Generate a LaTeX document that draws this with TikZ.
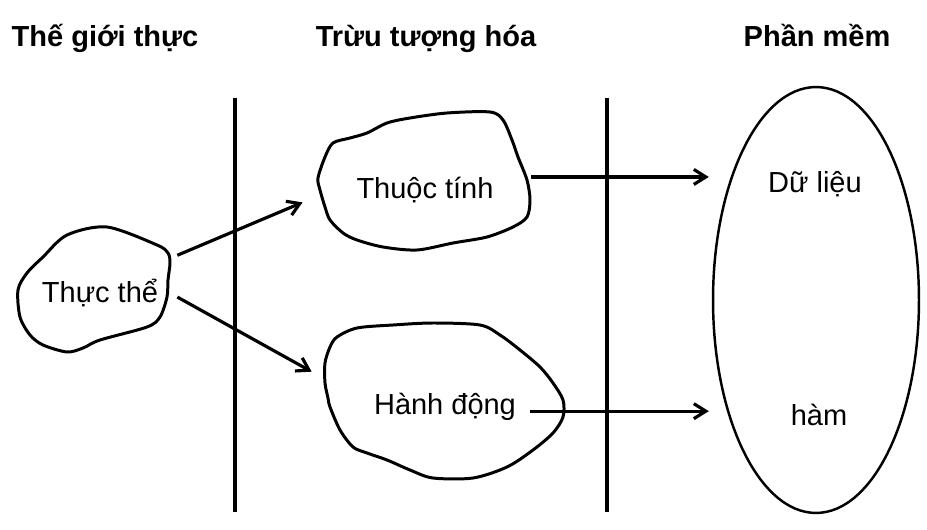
\documentclass[tikz,border=0pt]{standalone}
\usepackage{fontspec}
\setmainfont{Liberation Sans}
\usepackage{tikz}
\usetikzlibrary{arrows.meta,shapes.geometric}

\begin{document}
\begin{tikzpicture}[x=0.02cm, y=-0.02cm,
  txt/.style={font=\fontsize{16.5}{20}\selectfont},
  head/.style={font=\bfseries\fontsize{16.5}{20}\selectfont, anchor=base},
  blob/.style={txt, rectangle, inner sep=0pt},
  outline/.style={line width=1.7pt, line join=round},
  divider/.style={line width=2.4pt},
  arr/.style={-{Straight Barb[length=0.24cm, width=0.3cm]}, line width=1.8pt}]
\useasboundingbox (0,0) rectangle (927,530);

\node [head] (h1) at (105,47) {Thế giới thực};
\node [head] (h2) at (426,47) {Trừu tượng hóa};
\node [head] (h3) at (817,47) {Phần mềm};

\draw [divider] (235,98) -- (235,512);
\draw [divider] (607,98) -- (607,512);

% blobs
\node [blob, minimum width=3.08cm, minimum height=2.48cm] (thucthe) at (100,293) {Thực thể};
\draw [outline] plot [smooth cycle, tension=0.5] coordinates {(67,235) (107,227) (157,245) (168,253) (170,263) (168,280) (167,297) (160,317) (147,327) (100,340) (83,348) (67,352) (43,345) (30,335) (20,317) (18,290) (27,273) (43,257)};

\node [blob, minimum width=4.24cm, minimum height=2.8cm] (thuoctinh) at (425,190) {Thuộc tính};
\draw [outline] plot [smooth cycle, tension=0.5] coordinates {(318,178) (325,157) (333,143) (350,138) (367,133) (387,123) (410,118) (447,113) (490,112) (503,120) (512,140) (518,157) (527,180) (530,200) (527,217) (513,227) (487,237) (453,243) (417,250) (383,247) (357,240) (343,233) (330,220) (325,207) (320,190)};

\node [blob, minimum width=4.76cm, minimum height=3.1cm] (hanhdong) at (445,407) {Hành động};
\draw [outline] plot [smooth cycle, tension=0.5] coordinates {(337,337) (357,328) (393,325) (433,323) (480,325) (500,335) (520,350) (540,367) (553,383) (563,400) (563,417) (553,433) (533,450) (507,467) (473,478) (433,478) (410,470) (387,460) (367,453) (353,447) (340,430) (330,407) (328,398) (325,383) (325,363) (330,347)};

% software side
\node [ellipse, draw, line width=1.4pt, inner sep=0pt, minimum width=4.12cm, minimum height=8.52cm] (phanmem) at (816,300) {};
\node [txt, anchor=base] (dulieu) at (815,193) {Dữ liệu};
\node [txt, anchor=base] (ham) at (819,425) {hàm};

\draw [arr, shorten >=0.35cm] (thucthe.26.9) -- (thuoctinh.183.5);
\draw [arr, shorten >=0.32cm] (thucthe.-3) -- (hanhdong.167.6);
\draw [arr, shorten >=0.06cm] (thuoctinh.7.5) -- (thuoctinh.7.5 -| phanmem.west);
\draw [arr, shorten <=-0.68cm, shorten >=0.06cm] (hanhdong.-2.4) -- (hanhdong.-2.4 -| phanmem.west);
\end{tikzpicture}
\end{document}
